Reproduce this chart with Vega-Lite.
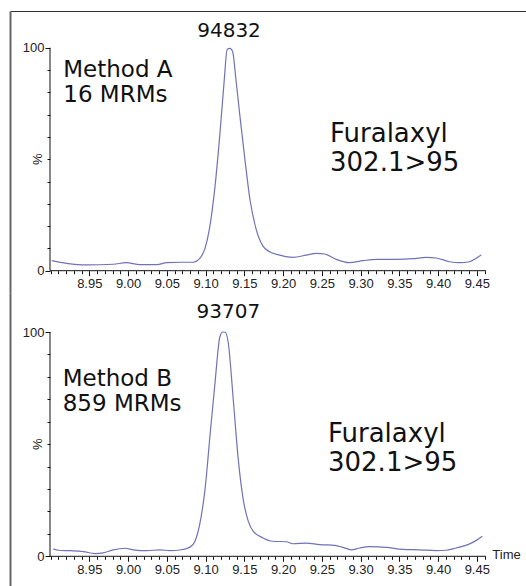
{
  "$schema": "https://vega.github.io/schema/vega-lite/v6.json",
  "padding": {"left": 10, "top": 11, "right": 0, "bottom": 0},
  "spacing": 0,
  "background": "white",
  "config": {
    "view": {"stroke": null},
    "axis": {"grid": false, "title": null, "labelFont": "Liberation Sans", "labelFontSize": 13, "labelColor": "#222", "tickColor": "#111", "domainColor": "#111"}
  },
  "datasets": {
    "A": [
      {"t": 8.9015, "v": 4.5}, {"t": 8.9208, "v": 3.3}, {"t": 8.9466, "v": 2.6}, {"t": 8.981, "v": 2.9}, {"t": 8.9974, "v": 3.6},
      {"t": 9.0154, "v": 2.7}, {"t": 9.037, "v": 2.7}, {"t": 9.0499, "v": 3.6}, {"t": 9.067, "v": 3.8}, {"t": 9.084, "v": 3.8},
      {"t": 9.0928, "v": 5.6}, {"t": 9.0993, "v": 10}, {"t": 9.1048, "v": 18.3}, {"t": 9.1122, "v": 37.7}, {"t": 9.1186, "v": 61.6},
      {"t": 9.1238, "v": 84}, {"t": 9.128, "v": 99.3}, {"t": 9.1316, "v": 99.7}, {"t": 9.135, "v": 98.2}, {"t": 9.1393, "v": 85.5},
      {"t": 9.1445, "v": 69}, {"t": 9.1509, "v": 49.6}, {"t": 9.1574, "v": 31.7}, {"t": 9.165, "v": 19}, {"t": 9.1741, "v": 11},
      {"t": 9.1828, "v": 8.5}, {"t": 9.1957, "v": 7}, {"t": 9.2128, "v": 6}, {"t": 9.23, "v": 7}, {"t": 9.243, "v": 7.8},
      {"t": 9.2537, "v": 7.5}, {"t": 9.2687, "v": 5.1}, {"t": 9.2851, "v": 3.6}, {"t": 9.3032, "v": 4.5}, {"t": 9.3203, "v": 5.1},
      {"t": 9.3461, "v": 5.1}, {"t": 9.3677, "v": 5.4}, {"t": 9.3848, "v": 6}, {"t": 9.3977, "v": 5.7}, {"t": 9.415, "v": 4},
      {"t": 9.4279, "v": 3.6}, {"t": 9.4408, "v": 4}, {"t": 9.4494, "v": 5.6}, {"t": 9.4558, "v": 7}
    ],
    "B": [
      {"t": 8.9035, "v": 3.3}, {"t": 8.91, "v": 2.7}, {"t": 8.925, "v": 2.5}, {"t": 8.9423, "v": 2.1}, {"t": 8.9574, "v": 1.2},
      {"t": 8.968, "v": 1.5}, {"t": 8.981, "v": 2.9}, {"t": 8.996, "v": 3.6}, {"t": 9.0068, "v": 2.9}, {"t": 9.024, "v": 2.5},
      {"t": 9.0412, "v": 2.9}, {"t": 9.0541, "v": 2.5}, {"t": 9.067, "v": 2.8}, {"t": 9.08, "v": 4.1}, {"t": 9.0864, "v": 6.7},
      {"t": 9.0928, "v": 14.8}, {"t": 9.0993, "v": 29.7}, {"t": 9.1057, "v": 53.5}, {"t": 9.1122, "v": 77.3}, {"t": 9.1186, "v": 98},
      {"t": 9.1221, "v": 100}, {"t": 9.1255, "v": 99.9}, {"t": 9.1294, "v": 95}, {"t": 9.1358, "v": 69.8}, {"t": 9.1423, "v": 43},
      {"t": 9.1487, "v": 25.2}, {"t": 9.1552, "v": 15.6}, {"t": 9.1617, "v": 11.1}, {"t": 9.1741, "v": 8.2}, {"t": 9.187, "v": 6.7},
      {"t": 9.2042, "v": 6.5}, {"t": 9.2128, "v": 5.6}, {"t": 9.23, "v": 5.9}, {"t": 9.2472, "v": 5.2}, {"t": 9.2666, "v": 4.9},
      {"t": 9.2773, "v": 4}, {"t": 9.288, "v": 2.9}, {"t": 9.2989, "v": 3.7}, {"t": 9.3117, "v": 4.3}, {"t": 9.3332, "v": 4},
      {"t": 9.3548, "v": 3.1}, {"t": 9.3763, "v": 2.9}, {"t": 9.3977, "v": 2.5}, {"t": 9.4106, "v": 2.7}, {"t": 9.4235, "v": 3.7},
      {"t": 9.4386, "v": 5.2}, {"t": 9.4494, "v": 7.1}, {"t": 9.4571, "v": 8.9}
    ],
    "one": [{}]
  },
  "vconcat": [
    {
      "width": 516,
      "height": 282,
      "resolve": {"scale": {"x": "independent", "y": "independent"}, "axis": {"x": "independent", "y": "independent"}},
      "layer": [
        {
          "layer": [
            {
              "data": {"name": "A"},
              "mark": {"type": "line", "color": "#6e73b8", "strokeWidth": 1.2, "interpolate": "monotone"},
              "encoding": {
                "x": {"field": "t", "type": "quantitative", "scale": {"domain": [8.8477, 9.5135], "nice": false, "zero": false},
                  "axis": {"orient": "bottom", "offset": -22.3, "values": [8.95, 9.0, 9.05, 9.1, 9.15, 9.2, 9.25, 9.3, 9.35, 9.4, 9.45], "format": ".2f", "domain": false, "tickSize": 5, "labelPadding": 2}},
                "y": {"field": "v", "type": "quantitative", "scale": {"domain": [-10.0, 116.46], "nice": false, "zero": false},
                  "axis": {"orient": "left", "offset": -40, "values": [0, 100], "domain": false, "tickSize": 5, "labelPadding": 1}}
              }
            },
            {
              "data": {"name": "one"},
              "mark": {"type": "text", "text": "94832", "font": "DejaVu Sans", "fontSize": 20, "align": "center", "baseline": "alphabetic", "color": "#111"},
              "encoding": {"x": {"datum": 9.1303, "type": "quantitative"}, "y": {"datum": 104.8, "type": "quantitative"}}
            },
            {
              "data": {"name": "one"},
              "mark": {"type": "text", "text": ["Method A", "16 MRMs"], "font": "DejaVu Sans", "fontSize": 23, "lineHeight": 25, "align": "left", "baseline": "alphabetic", "color": "#111"},
              "encoding": {"x": {"datum": 8.9164, "type": "quantitative"}, "y": {"datum": 86.9, "type": "quantitative"}}
            },
            {
              "data": {"name": "one"},
              "mark": {"type": "text", "text": ["Furalaxyl", "302.1>95"], "font": "DejaVu Sans", "fontSize": 26, "lineHeight": 29, "align": "left", "baseline": "alphabetic", "color": "#111"},
              "encoding": {"x": {"datum": 9.2606, "type": "quantitative"}, "y": {"datum": 57.8, "type": "quantitative"}}
            },
            {
              "data": {"name": "one"},
              "mark": {"type": "text", "text": "%", "font": "Liberation Sans", "fontSize": 13, "angle": 270, "align": "center", "baseline": "middle", "dy": -12, "color": "#222"},
              "encoding": {"x": {"datum": 8.8993, "type": "quantitative"}, "y": {"datum": 50, "type": "quantitative"}}
            }
          ]
        },
        {
          "data": {"name": "one"},
          "mark": {"type": "rule", "color": "#111", "strokeWidth": 1},
          "encoding": {
            "x": {"datum": 8.8993, "type": "quantitative", "scale": {"domain": [8.8477, 9.5135], "nice": false, "zero": false},
              "axis": {"orient": "bottom", "offset": -22.3, "values": [8.90, 8.91, 8.92, 8.93, 8.94, 8.96, 8.97, 8.98, 8.99, 9.01, 9.02, 9.03, 9.04, 9.06, 9.07, 9.08, 9.09, 9.11, 9.12, 9.13, 9.14, 9.16, 9.17, 9.18, 9.19, 9.21, 9.22, 9.23, 9.24, 9.26, 9.27, 9.28, 9.29, 9.31, 9.32, 9.33, 9.34, 9.36, 9.37, 9.38, 9.39, 9.41, 9.42, 9.43, 9.44, 9.46], "labels": false, "domain": false, "tickSize": 3}},
            "x2": {"datum": 9.462},
            "y": {"datum": 0, "type": "quantitative", "scale": {"domain": [-10.0, 116.46], "nice": false, "zero": false},
              "axis": {"orient": "left", "offset": -40, "values": [10, 20, 30, 40, 50, 60, 70, 80, 90], "labels": false, "domain": false, "tickSize": 3}}
          }
        },
        {
          "data": {"name": "one"},
          "mark": {"type": "rule", "color": "#111", "strokeWidth": 1},
          "encoding": {
            "x": {"datum": 8.8993, "type": "quantitative", "scale": {"domain": [8.8477, 9.5135], "nice": false, "zero": false},
              "axis": {"orient": "top", "offset": 0, "domain": true, "domainColor": "#333", "domainWidth": 1, "ticks": false, "labels": false}},
            "y": {"datum": 0, "type": "quantitative", "scale": {"domain": [-10.0, 116.46], "nice": false, "zero": false},
              "axis": {"orient": "left", "offset": 0, "domain": true, "domainColor": "#666", "domainWidth": 2, "ticks": false, "labels": false}},
            "y2": {"datum": 100}
          }
        }
      ]
    },
    {
      "width": 516,
      "height": 293,
      "resolve": {"scale": {"x": "independent", "y": "independent"}, "axis": {"x": "independent", "y": "independent"}},
      "layer": [
        {
          "layer": [
            {
              "data": {"name": "B"},
              "mark": {"type": "line", "color": "#6e73b8", "strokeWidth": 1.2, "interpolate": "monotone"},
              "encoding": {
                "x": {"field": "t", "type": "quantitative", "scale": {"domain": [8.8477, 9.5135], "nice": false, "zero": false},
                  "axis": {"orient": "bottom", "offset": -29.7, "values": [8.95, 9.0, 9.05, 9.1, 9.15, 9.2, 9.25, 9.3, 9.35, 9.4, 9.45], "format": ".2f", "domain": false, "tickSize": 5, "labelPadding": 2}},
                "y": {"field": "v", "type": "quantitative", "scale": {"domain": [-13.24, 117.39], "nice": false, "zero": false},
                  "axis": {"orient": "left", "offset": -40, "values": [0, 100], "domain": false, "tickSize": 5, "labelPadding": 1}}
              }
            },
            {
              "data": {"name": "one"},
              "mark": {"type": "text", "text": "93707", "font": "DejaVu Sans", "fontSize": 20, "align": "center", "baseline": "alphabetic", "color": "#111"},
              "encoding": {"x": {"datum": 9.1294, "type": "quantitative"}, "y": {"datum": 106.2, "type": "quantitative"}}
            },
            {
              "data": {"name": "one"},
              "mark": {"type": "text", "text": ["Method B", "859 MRMs"], "font": "DejaVu Sans", "fontSize": 23, "lineHeight": 25, "align": "left", "baseline": "alphabetic", "color": "#111"},
              "encoding": {"x": {"datum": 8.9157, "type": "quantitative"}, "y": {"datum": 76.0, "type": "quantitative"}}
            },
            {
              "data": {"name": "one"},
              "mark": {"type": "text", "text": ["Furalaxyl", "302.1>95"], "font": "DejaVu Sans", "fontSize": 26, "lineHeight": 29, "align": "left", "baseline": "alphabetic", "color": "#111"},
              "encoding": {"x": {"datum": 9.258, "type": "quantitative"}, "y": {"datum": 50.8, "type": "quantitative"}}
            },
            {
              "data": {"name": "one"},
              "mark": {"type": "text", "text": "%", "font": "Liberation Sans", "fontSize": 13, "angle": 270, "align": "center", "baseline": "middle", "dy": -12, "color": "#222"},
              "encoding": {"x": {"datum": 8.8993, "type": "quantitative"}, "y": {"datum": 50, "type": "quantitative"}}
            },
            {
              "data": {"name": "one"},
              "mark": {"type": "text", "text": "Time", "font": "Liberation Sans", "fontSize": 13, "align": "left", "baseline": "middle", "color": "#222"},
              "encoding": {"x": {"datum": 9.47, "type": "quantitative"}, "y": {"datum": 0.5, "type": "quantitative"}}
            }
          ]
        },
        {
          "data": {"name": "one"},
          "mark": {"type": "rule", "color": "#111", "strokeWidth": 1},
          "encoding": {
            "x": {"datum": 8.8993, "type": "quantitative", "scale": {"domain": [8.8477, 9.5135], "nice": false, "zero": false},
              "axis": {"orient": "bottom", "offset": -29.7, "values": [8.90, 8.91, 8.92, 8.93, 8.94, 8.96, 8.97, 8.98, 8.99, 9.01, 9.02, 9.03, 9.04, 9.06, 9.07, 9.08, 9.09, 9.11, 9.12, 9.13, 9.14, 9.16, 9.17, 9.18, 9.19, 9.21, 9.22, 9.23, 9.24, 9.26, 9.27, 9.28, 9.29, 9.31, 9.32, 9.33, 9.34, 9.36, 9.37, 9.38, 9.39, 9.41, 9.42, 9.43, 9.44, 9.46], "labels": false, "domain": false, "tickSize": 3}},
            "x2": {"datum": 9.462},
            "y": {"datum": 0, "type": "quantitative", "scale": {"domain": [-13.24, 117.39], "nice": false, "zero": false},
              "axis": {"orient": "left", "offset": -40, "values": [10, 20, 30, 40, 50, 60, 70, 80, 90], "labels": false, "domain": false, "tickSize": 3}}
          }
        },
        {
          "data": {"name": "one"},
          "mark": {"type": "rule", "color": "#111", "strokeWidth": 1},
          "encoding": {
            "x": {"datum": 8.8993, "type": "quantitative", "scale": {"domain": [8.8477, 9.5135], "nice": false, "zero": false}, "axis": null},
            "y": {"datum": 0, "type": "quantitative", "scale": {"domain": [-13.24, 117.39], "nice": false, "zero": false},
              "axis": {"orient": "left", "offset": 0, "domain": true, "domainColor": "#666", "domainWidth": 2, "ticks": false, "labels": false}},
            "y2": {"datum": 100}
          }
        }
      ]
    }
  ]
}
